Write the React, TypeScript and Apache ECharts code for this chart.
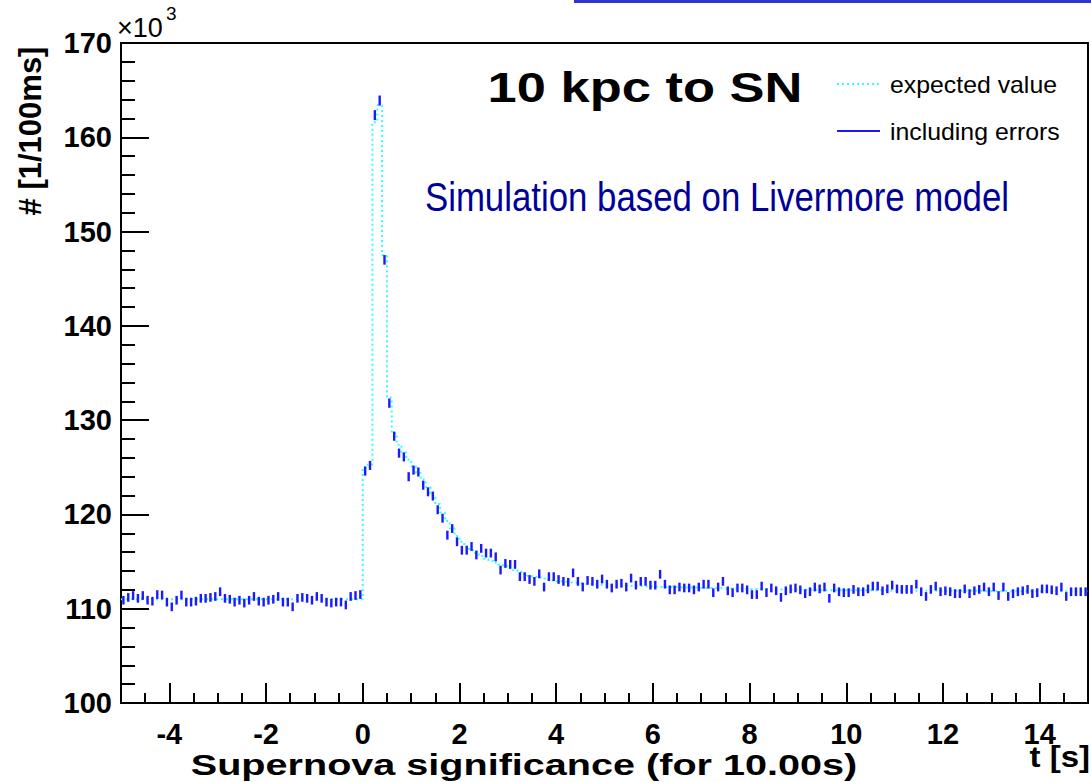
import React, { useEffect, useRef } from "react";
import * as echarts from "echarts";

// ---- data (values in units of 10^3 counts per 100 ms) ----
const BIN_START = -5;
const BIN_END = 15;
const BIN_WIDTH = 0.1;

const X_MAJOR_TICKS = [-4, -2, 0, 2, 4, 6, 8, 10, 12, 14];
const Y_MIN = 100;
const Y_MAX = 170;

// measured counts, bins from -5.0 to 0.0 s
const MEASURED_PRE = [
  110.9, 111.2, 111.4, 111.1, 111.4, 110.9, 110.8, 111.5, 111.45, 110.7,
  110.2, 110.9, 111.45, 110.7, 110.7, 110.8, 111.1, 111.1, 111.2, 111.3,
  111.8, 111.1, 111.0, 110.7, 110.9, 110.6, 110.9, 111.3, 110.8, 110.7,
  110.9, 111.0, 111.3, 110.7, 110.7, 110.2, 111.1, 111.2, 111.1, 110.9,
  111.3, 111.1, 110.7, 110.6, 110.7, 110.7, 110.4, 111.3, 111.4, 111.5,
];

// measured counts, bins from 0.0 to 15.0 s
const MEASURED_POST = [
  124.6, 125.2, 162.35, 163.9, 147.0, 131.8, 128.3, 126.5, 126.1, 124.0,
  124.7, 124.5, 123.1, 122.4, 121.95, 120.5, 119.6, 117.8, 118.5, 117.1,
  116.2, 116.2, 116.6, 115.7, 116.4, 115.9, 115.9, 115.5, 114.1, 114.8,
  114.7, 114.7, 113.4, 113.4, 113.1, 112.9, 113.7, 112.3, 113.4, 113.4,
  113.1, 112.9, 112.8, 113.8, 112.9,
  112.3, 113.0, 112.9, 112.6, 113.15, 112.6, 112.2, 112.6, 112.7, 112.3,
  113.25, 112.5, 112.9, 112.9, 112.5, 112.5, 113.65, 112.6, 112.0, 112.0,
  112.3, 112.2, 112.2, 112.0, 112.3, 112.6, 112.6, 111.7, 112.3, 112.9,
  111.9, 111.7, 112.2, 112.2, 112.0, 111.5, 111.5, 112.4, 111.7, 112.2,
  111.9, 111.2, 111.9, 112.1, 112.2, 112.0, 111.6, 111.8, 112.3, 112.1,
  112.3, 111.1, 112.2,
  111.8, 111.7, 111.7, 112.05, 111.8, 111.8, 112.1, 112.4, 112.4, 111.9,
  112.1, 112.5, 112.1, 112.05, 112.05, 112.05, 112.6, 111.8, 111.3, 112.05,
  112.4, 111.8, 111.9, 111.8, 111.6, 111.6, 112.1, 111.6, 111.9, 112.05,
  112.3, 111.8, 112.3, 111.4, 112.3, 111.3, 111.6, 111.8, 111.9, 112.05,
  111.6, 111.7, 112.1, 112.1, 112.0, 111.9, 112.3, 111.3, 111.8, 111.8,
  111.8, 111.8,
];

// expected value, bins from -5.0 to 0.0 s
const EXPECTED_PRE = [
  111.0, 111.0, 111.0, 111.0, 111.0, 111.0, 111.0, 111.0, 111.0, 111.0,
  111.0, 111.0, 111.0, 111.0, 111.0, 111.0, 111.0, 111.0, 111.0, 111.0,
  111.0, 111.0, 111.0, 111.0, 111.0, 111.0, 111.0, 111.0, 111.0, 111.0,
  111.0, 111.0, 111.0, 111.0, 111.0, 111.0, 111.0, 111.0, 111.0, 111.0,
  111.0, 111.0, 111.0, 111.0, 111.0, 111.0, 111.0, 111.0, 111.0, 111.0,
];

// expected value, bins from 0.0 to 15.0 s
const EXPECTED_POST = [
  125.0, 125.3, 161.6, 163.4, 147.5, 132.4, 128.6, 127.4, 126.6, 125.8,
  125.1, 124.4, 123.7, 122.9, 122.0, 121.1, 120.2, 119.3, 118.5, 117.7,
  117.1, 116.6, 116.2, 115.9, 115.6, 115.3, 115.1, 114.9, 114.7, 114.5,
  114.3, 114.1, 113.9, 113.7, 113.5, 113.4, 113.3, 113.2, 113.1, 113.0,
  112.9, 112.85, 112.8, 112.75, 112.7,
  112.65, 112.6, 112.6, 112.55, 112.55, 112.5, 112.5, 112.5, 112.45, 112.45,
  112.4, 112.4, 112.4, 112.35, 112.35, 112.35, 112.3, 112.3, 112.3, 112.3,
  112.25, 112.25, 112.25, 112.25, 112.2, 112.2, 112.2, 112.2, 112.2, 112.15,
  112.15, 112.15, 112.15, 112.1, 112.1, 112.1, 112.1, 112.1, 112.05, 112.05,
  112.05, 112.05, 112.05, 112.0, 112.0, 112.0, 112.0, 112.0, 112.0, 111.95,
  111.95, 111.95, 111.95,
  111.95, 111.95, 111.95, 111.95, 111.95, 111.95, 111.95, 111.95, 111.95, 111.95,
  111.9, 111.9, 111.9, 111.9, 111.9, 111.9, 111.9, 111.9, 111.9, 111.9,
  111.9, 111.9, 111.9, 111.9, 111.9, 111.9, 111.9, 111.9, 111.9, 111.9,
  111.85, 111.85, 111.85, 111.85, 111.85, 111.85, 111.85, 111.85, 111.85, 111.85,
  111.85, 111.85, 111.85, 111.85, 111.85, 111.85, 111.85, 111.85, 111.85, 111.85,
  111.85, 111.85,
];

const TEXT_FONT = "'Liberation Sans', Arial, Helvetica, sans-serif";

export default function App() {
  const ref = useRef<HTMLDivElement>(null);

  useEffect(() => {
    if (!ref.current) return;
    const chart = echarts.init(ref.current, undefined, { renderer: "svg" });

    const measured = [...MEASURED_PRE, ...MEASURED_POST];
    const expected = [...EXPECTED_PRE, ...EXPECTED_POST];

    const stepData: number[][] = expected.map((v, i) => [
      +(BIN_START + i * BIN_WIDTH).toFixed(2),
      v,
    ]);
    stepData.push([BIN_END, expected[expected.length - 1]]);

    const errData: number[][] = measured.map((v, i) => [
      +(BIN_START + (i + 0.5) * BIN_WIDTH).toFixed(3),
      v,
      Math.sqrt(v * 1000) / 1000,
    ]);

    const halfTicks: number[] = [];
    for (let i = 0; i <= (BIN_END - BIN_START) * 2; i++) {
      halfTicks.push(BIN_START + i * 0.5);
    }

    const option: any = {
      animation: false,
      backgroundColor: "#ffffff",
      grid: {
        left: 121,
        right: 3,
        top: 43,
        bottom: 79,
        show: true,
        borderColor: "#000",
        borderWidth: 2,
        containLabel: false,
      },
      xAxis: [
        {
          type: "value",
          min: BIN_START,
          max: BIN_END,
          position: "bottom",
          axisLine: { show: true, onZero: false, lineStyle: { color: "#000", width: 2 } },
          axisTick: {
            show: true,
            inside: true,
            length: 20,
            customValues: X_MAJOR_TICKS,
            lineStyle: { color: "#000", width: 2 },
          },
          axisLabel: {
            show: true,
            customValues: X_MAJOR_TICKS,
            fontSize: 29,
            fontWeight: "bold",
            fontFamily: TEXT_FONT,
            color: "#000",
            margin: 16,
          },
          splitLine: { show: false },
        },
        {
          type: "value",
          min: BIN_START,
          max: BIN_END,
          position: "bottom",
          axisLine: { show: false, onZero: false },
          axisTick: {
            show: true,
            inside: true,
            length: 10,
            customValues: halfTicks,
            lineStyle: { color: "#000", width: 2 },
          },
          axisLabel: { show: false },
          splitLine: { show: false },
        },
      ],
      yAxis: {
        type: "value",
        min: Y_MIN,
        max: Y_MAX,
        interval: 10,
        axisLine: { show: true, onZero: false, lineStyle: { color: "#000", width: 2 } },
        axisTick: { show: true, inside: true, length: 28, lineStyle: { color: "#000", width: 2 } },
        minorTick: { show: true, splitNumber: 5, length: 14, lineStyle: { color: "#000", width: 2 } },
        axisLabel: {
          fontSize: 29,
          fontWeight: "bold",
          fontFamily: TEXT_FONT,
          color: "#000",
          margin: 9,
        },
        splitLine: { show: false },
        minorSplitLine: { show: false },
      },
      series: [
        {
          name: "expected value",
          type: "line",
          xAxisIndex: 0,
          data: stepData,
          step: "end",
          symbol: "none",
          lineStyle: { color: "#33ffff", width: 2, type: [2, 3] },
          z: 2,
        },
        {
          name: "including errors",
          type: "custom",
          xAxisIndex: 0,
          data: errData,
          encode: { x: 0, y: 1 },
          renderItem: (params: any, api: any) => {
            const x = api.value(0);
            const v = api.value(1);
            const e = api.value(2);
            const p1 = api.coord([x, v - e]);
            const p2 = api.coord([x, v + e]);
            return {
              type: "line",
              shape: { x1: p1[0], y1: p1[1], x2: p2[0], y2: p2[1] },
              style: { stroke: "#1a1aff", lineWidth: 2.4, lineCap: "square" },
            };
          },
          z: 3,
        },
      ],
      graphic: [
        { type: "rect", shape: { x: 574, y: 0, width: 517, height: 3 }, style: { fill: "#3333cc" } },
        {
          type: "text",
          x: 117,
          y: 14,
          style: { text: "×10", fontSize: 27, fontFamily: TEXT_FONT, fill: "#000" },
        },
        {
          type: "text",
          x: 166,
          y: 4,
          style: { text: "3", fontSize: 19, fontFamily: TEXT_FONT, fill: "#000" },
        },
        {
          type: "text",
          x: 30,
          y: 131,
          rotation: Math.PI / 2,
          style: {
            text: "# [1/100ms]",
            fontSize: 31,
            fontWeight: "bold",
            fontFamily: TEXT_FONT,
            fill: "#000",
            align: "center",
            verticalAlign: "middle",
          },
        },
        {
          type: "text",
          x: 524,
          y: 764,
          scaleX: 1.32,
          style: {
            text: "Supernova significance (for 10.00s)",
            fontSize: 30,
            fontWeight: "bold",
            fontFamily: TEXT_FONT,
            fill: "#000",
            align: "center",
            verticalAlign: "middle",
          },
        },
        {
          type: "text",
          x: 1090,
          y: 757,
          scaleX: 1.1,
          style: {
            text: "t [s]",
            fontSize: 30,
            fontWeight: "bold",
            fontFamily: TEXT_FONT,
            fill: "#000",
            align: "right",
            verticalAlign: "middle",
          },
        },
        {
          type: "text",
          x: 645,
          y: 87,
          scaleX: 1.22,
          style: {
            text: "10 kpc to SN",
            fontSize: 43,
            fontWeight: "bold",
            fontFamily: TEXT_FONT,
            fill: "#000",
            align: "center",
            verticalAlign: "middle",
          },
        },
        {
          type: "text",
          x: 717,
          y: 197,
          scaleX: 0.87,
          style: {
            text: "Simulation based on Livermore model",
            fontSize: 40,
            fontFamily: TEXT_FONT,
            fill: "#000099",
            align: "center",
            verticalAlign: "middle",
          },
        },
        {
          type: "line",
          shape: { x1: 837, y1: 84, x2: 880, y2: 84 },
          style: { stroke: "#33ffff", lineWidth: 2, lineDash: [2, 3] },
        },
        {
          type: "text",
          x: 890,
          y: 85,
          scaleX: 1.08,
          style: {
            text: "expected value",
            fontSize: 23,
            fontFamily: TEXT_FONT,
            fill: "#000",
            align: "left",
            verticalAlign: "middle",
          },
        },
        {
          type: "line",
          shape: { x1: 837, y1: 131, x2: 880, y2: 131 },
          style: { stroke: "#1a1aff", lineWidth: 2 },
        },
        {
          type: "text",
          x: 890,
          y: 132,
          scaleX: 1.08,
          style: {
            text: "including errors",
            fontSize: 23,
            fontFamily: TEXT_FONT,
            fill: "#000",
            align: "left",
            verticalAlign: "middle",
          },
        },
      ],
    };

    chart.setOption(option);
    return () => chart.dispose();
  }, []);

  return (
    <div
      ref={ref}
      style={{ position: "fixed", left: 0, top: 0, width: 1091, height: 782, background: "#fff" }}
    />
  );
}
